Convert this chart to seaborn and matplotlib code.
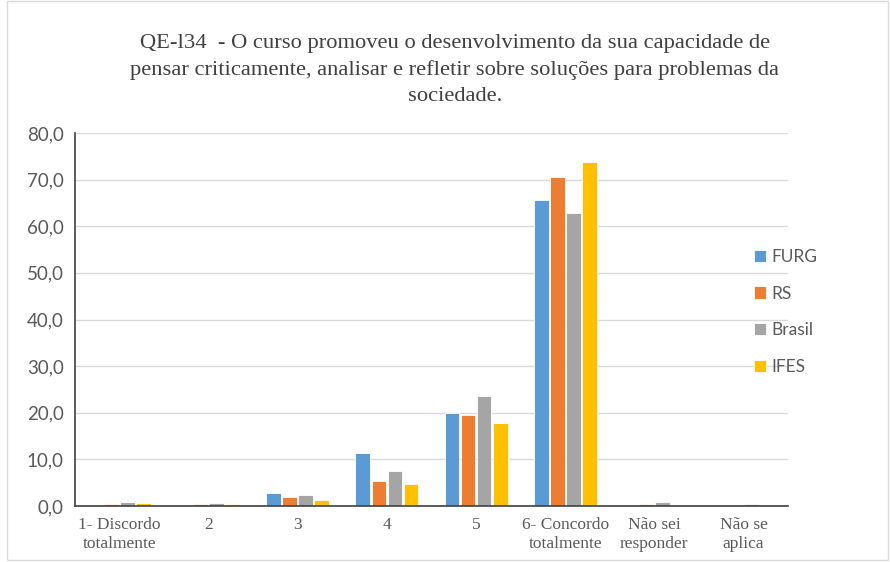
import numpy as np
import pandas as pd
import matplotlib
matplotlib.use("Agg")
import matplotlib.pyplot as plt
import seaborn as sns
from matplotlib.patches import Rectangle

# ---- data ----
categories = ["1- Discordo\ntotalmente", "2", "3", "4", "5",
              "6- Concordo\ntotalmente", "Não sei\nresponder", "Não se\naplica"]
series = ["FURG", "RS", "Brasil", "IFES"]
furg = [0.0, 0.0, 2.8, 11.4, 20.0, 65.7, 0.0, 0.0]
rs = [0.5, 0.4, 1.9, 5.4, 19.5, 70.6, 0.4, 0.2]
brasil = [0.8, 0.7, 2.3, 7.5, 23.6, 62.9, 0.9, 0.4]
ifes = [0.7, 0.4, 1.3, 4.7, 17.8, 73.8, 0.2, 0.2]
colors = ["#5B9BD5", "#ED7D31", "#A5A5A5", "#FFC000"]
title = ("QE-l34  - O curso promoveu o desenvolvimento da sua capacidade de\n"
         "pensar criticamente, analisar e refletir sobre soluções para problemas da\n"
         "sociedade.")

df = pd.DataFrame({
    "cat": categories * 4,
    "serie": np.repeat(series, len(categories)),
    "valor": furg + rs + brasil + ifes,
})

sns.set_style("white")
plt.rcParams["font.family"] = ["Liberation Serif", "DejaVu Serif"]

fig = plt.figure(figsize=(8.9, 5.62), dpi=100)
ax = fig.add_axes([75 / 890, 1 - 506 / 562, (788 - 75) / 890, (506 - 133) / 562])

sns.barplot(data=df, x="cat", y="valor", hue="serie", hue_order=series,
            palette=colors, order=categories, ax=ax, width=0.72, gap=0.08,
            errorbar=None, saturation=1, edgecolor="white", linewidth=0.6)

ax.set_ylim(0, 80)
ax.set_yticks(np.arange(0, 81, 10))
ax.set_yticklabels([f"{v:.1f}".replace(".", ",") for v in np.arange(0, 81, 10)],
                   fontfamily=["Lato", "DejaVu Sans"], fontsize=13.5, color="#595959")
ax.tick_params(axis="x", labelsize=12.5, colors="#595959", length=0, pad=8)
ax.tick_params(axis="y", length=0, pad=8)
ax.set_xlabel("")
ax.set_ylabel("")
ax.grid(axis="y", color="#D9D9D9", linewidth=1)
ax.set_axisbelow(True)
for s in ["top", "right"]:
    ax.spines[s].set_visible(False)
ax.spines["left"].set_color("#404040")
ax.spines["bottom"].set_color("#404040")
ax.spines["left"].set_linewidth(1.2)
ax.spines["bottom"].set_linewidth(1.2)

leg = ax.legend(loc="center left", bbox_to_anchor=(0.93, 0.52), frameon=False,
                prop={"family": ["Lato", "DejaVu Sans"], "size": 12.5},
                handlelength=0.7, handleheight=0.7, handletextpad=0.3,
                labelspacing=1.2, labelcolor="#595959")

fig.text(455 / 890, 1 - 70 / 562, title, ha="center", va="center",
         fontsize=16.2, color="#404040", linespacing=1.5)

fig.patches.append(Rectangle((0.008, 0.004), 0.99, 0.995, transform=fig.transFigure,
                             fill=False, edgecolor="#D9D9D9", linewidth=1))

fig.savefig("out.png", dpi=100)
